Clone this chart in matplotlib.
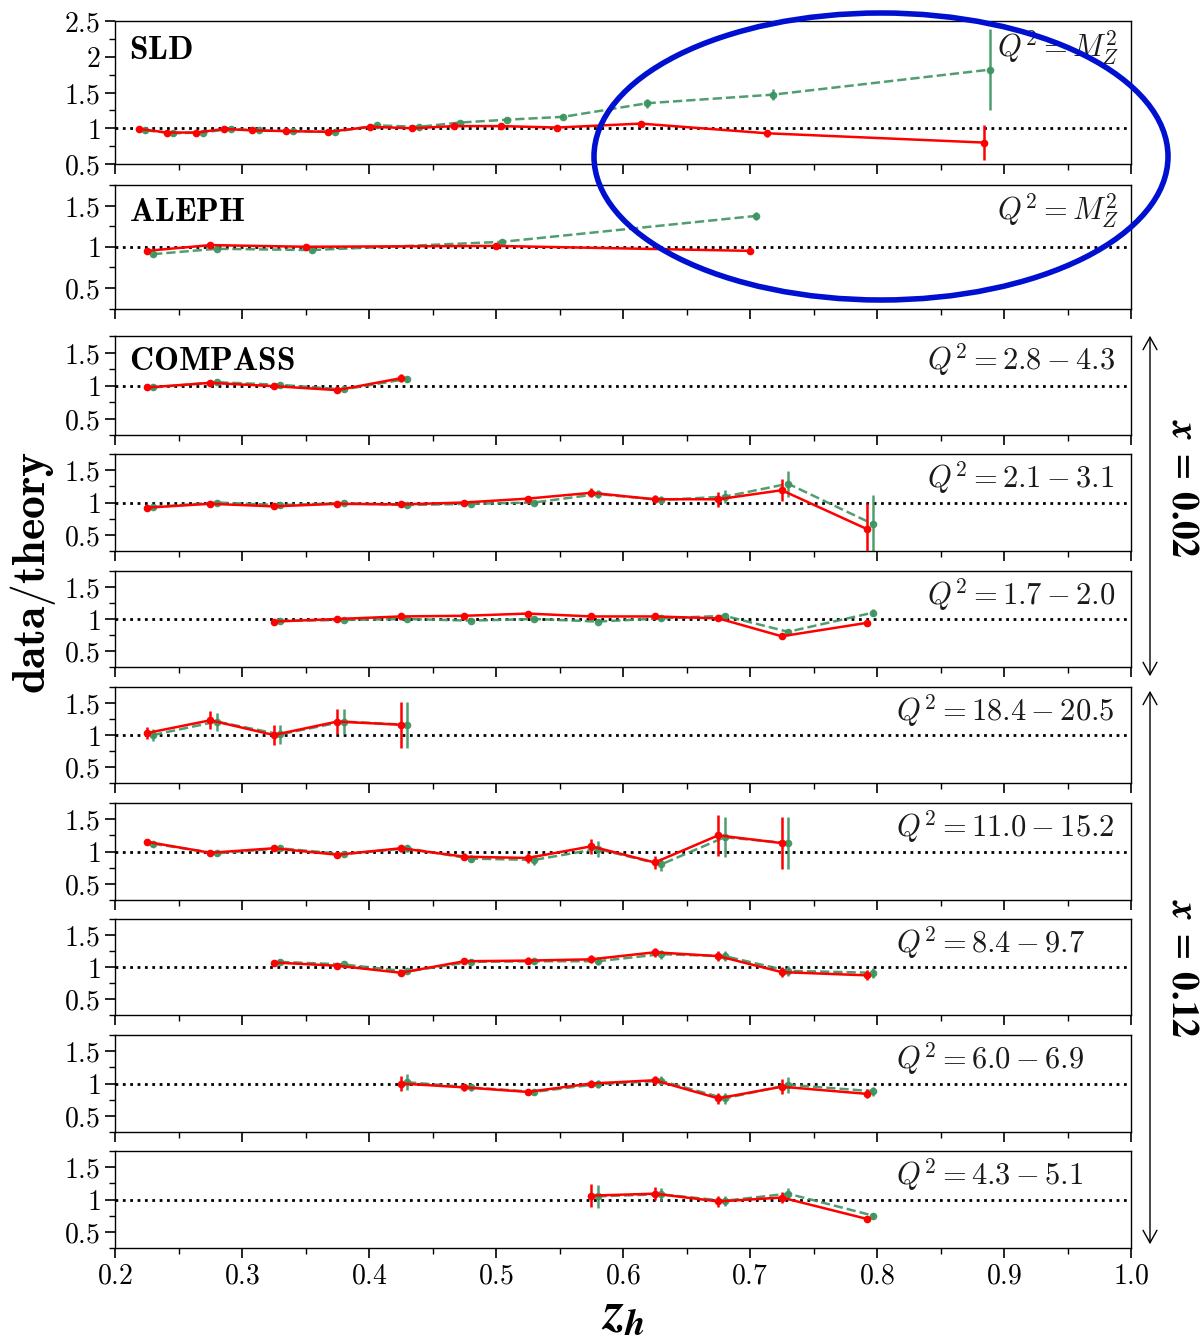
import numpy as np
import matplotlib
matplotlib.use("Agg")
import matplotlib.pyplot as plt
from matplotlib.patches import Ellipse, FancyArrowPatch
from matplotlib.ticker import MultipleLocator, FuncFormatter

plt.rcParams['mathtext.fontset'] = 'cm'
plt.rcParams['font.family'] = ['DejaVu Serif']

# ---- e+e- data / theory ratios ----
sld_z = [0.219, 0.241, 0.264, 0.286, 0.308, 0.335, 0.368, 0.401, 0.434,
         0.467, 0.504, 0.548, 0.614, 0.713, 0.884]
sld_red = [0.99, 0.94, 0.94, 0.99, 0.97, 0.96, 0.95, 1.02, 1.00, 1.03, 1.03,
           1.01, 1.065, 0.93, 0.80]
sld_red_err = [0.04, 0.02, 0.02, 0.02, 0.02, 0.02, 0.02, 0.02, 0.02, 0.02,
               0.02, 0.02, 0.03, 0.05, 0.25]
sld_green = [0.97, 0.93, 0.94, 0.99, 0.97, 0.96, 0.95, 1.04, 1.02, 1.08, 1.12,
             1.16, 1.35, 1.47, 1.82]
sld_green_err = [0.03, 0.02, 0.02, 0.02, 0.02, 0.02, 0.02, 0.02, 0.02, 0.02,
                 0.02, 0.03, 0.06, 0.08, 0.57]

aleph_z = [0.225, 0.275, 0.35, 0.50, 0.70]
aleph_red = [0.95, 1.02, 1.00, 1.01, 0.95]
aleph_red_err = [0.02, 0.02, 0.02, 0.02, 0.02]
aleph_green = [0.91, 0.975, 0.96, 1.06, 1.375]
aleph_green_err = [0.02, 0.02, 0.02, 0.02, 0.05]

# ---- COMPASS, x = 0.02 ----
c1_z = [0.225, 0.275, 0.325, 0.375, 0.425]
c1_red = [0.97, 1.04, 0.99, 0.93, 1.11]
c1_red_err = [0.02, 0.02, 0.02, 0.02, 0.06]
c1_green = [0.97, 1.05, 1.01, 0.94, 1.10]
c1_green_err = [0.02, 0.02, 0.02, 0.02, 0.05]

c2_z = [0.225, 0.275, 0.325, 0.375, 0.425, 0.475, 0.525, 0.575, 0.625,
        0.675, 0.725, 0.792]
c2_red = [0.92, 0.98, 0.94, 0.98, 0.97, 1.00, 1.06, 1.15, 1.05, 1.05, 1.19, 0.59]
c2_red_err = [0.02, 0.02, 0.02, 0.02, 0.02, 0.02, 0.03, 0.07, 0.06, 0.12, 0.17, 0.40]
c2_green = [0.93, 1.00, 0.96, 0.99, 0.96, 0.98, 1.00, 1.13, 1.04, 1.09, 1.29, 0.665]
c2_green_err = [0.02, 0.02, 0.02, 0.02, 0.02, 0.02, 0.03, 0.06, 0.06, 0.10, 0.20, 0.45]

c3_z = [0.325, 0.375, 0.425, 0.475, 0.525, 0.575, 0.625, 0.675, 0.725, 0.792]
c3_red = [0.96, 1.00, 1.04, 1.05, 1.085, 1.04, 1.04, 1.01, 0.73, 0.94]
c3_red_err = [0.02, 0.02, 0.02, 0.02, 0.02, 0.03, 0.03, 0.03, 0.04, 0.05]
c3_green = [0.97, 0.985, 1.00, 0.975, 1.00, 0.96, 1.01, 1.05, 0.80, 1.10]
c3_green_err = [0.02, 0.02, 0.02, 0.02, 0.02, 0.03, 0.03, 0.03, 0.04, 0.05]

# ---- COMPASS, x = 0.12 ----
c4_z = [0.225, 0.275, 0.325, 0.375, 0.425]
c4_red = [1.03, 1.23, 1.00, 1.21, 1.16]
c4_red_err = [0.10, 0.14, 0.15, 0.20, 0.36]
c4_green = [1.00, 1.21, 1.01, 1.21, 1.16]
c4_green_err = [0.10, 0.14, 0.15, 0.20, 0.36]

c5_z = [0.225, 0.275, 0.325, 0.375, 0.425, 0.475, 0.525, 0.575, 0.625,
        0.675, 0.725]
c5_red = [1.15, 0.98, 1.05, 0.95, 1.05, 0.92, 0.90, 1.08, 0.83, 1.25, 1.13]
c5_red_err = [0.05, 0.02, 0.03, 0.03, 0.05, 0.05, 0.08, 0.12, 0.10, 0.32, 0.40]
c5_green = [1.12, 0.97, 1.05, 0.96, 1.05, 0.89, 0.87, 1.04, 0.80, 1.22, 1.13]
c5_green_err = [0.05, 0.02, 0.03, 0.03, 0.05, 0.05, 0.08, 0.12, 0.10, 0.31, 0.40]

c6_z = [0.325, 0.375, 0.425, 0.475, 0.525, 0.575, 0.625, 0.675, 0.725, 0.792]
c6_red = [1.07, 1.02, 0.91, 1.09, 1.10, 1.12, 1.23, 1.17, 0.92, 0.87]
c6_red_err = [0.04, 0.02, 0.03, 0.04, 0.05, 0.06, 0.07, 0.08, 0.08, 0.08]
c6_green = [1.08, 1.04, 0.93, 1.08, 1.09, 1.09, 1.20, 1.17, 0.94, 0.91]
c6_green_err = [0.04, 0.02, 0.03, 0.04, 0.05, 0.06, 0.07, 0.08, 0.08, 0.08]

c7_z = [0.425, 0.475, 0.525, 0.575, 0.625, 0.675, 0.725, 0.792]
c7_red = [1.00, 0.94, 0.87, 1.00, 1.05, 0.77, 0.95, 0.84]
c7_red_err = [0.12, 0.05, 0.05, 0.06, 0.07, 0.08, 0.12, 0.07]
c7_green = [1.02, 0.94, 0.87, 0.99, 1.04, 0.77, 0.98, 0.88]
c7_green_err = [0.12, 0.05, 0.05, 0.06, 0.07, 0.08, 0.12, 0.07]

c8_z = [0.575, 0.625, 0.675, 0.725, 0.792]
c8_red = [1.06, 1.09, 0.97, 1.03, 0.70]
c8_red_err = [0.18, 0.10, 0.08, 0.09, 0.04]
c8_green = [1.05, 1.08, 0.98, 1.09, 0.75]
c8_green_err = [0.18, 0.10, 0.08, 0.09, 0.04]

panels = [
    dict(z=sld_z, r=sld_red, re=sld_red_err, g=sld_green, ge=sld_green_err,
         name='SLD', q2=r'$Q^2 = M_Z^2$', ylim=(0.5, 2.5)),
    dict(z=aleph_z, r=aleph_red, re=aleph_red_err, g=aleph_green, ge=aleph_green_err,
         name='ALEPH', q2=r'$Q^2 = M_Z^2$', ylim=(0.25, 1.75)),
    dict(z=c1_z, r=c1_red, re=c1_red_err, g=c1_green, ge=c1_green_err,
         name='COMPASS', q2=r'$Q^2 = 2.8 - 4.3$', ylim=(0.25, 1.75)),
    dict(z=c2_z, r=c2_red, re=c2_red_err, g=c2_green, ge=c2_green_err,
         name=None, q2=r'$Q^2 = 2.1 - 3.1$', ylim=(0.25, 1.75)),
    dict(z=c3_z, r=c3_red, re=c3_red_err, g=c3_green, ge=c3_green_err,
         name=None, q2=r'$Q^2 = 1.7 - 2.0$', ylim=(0.25, 1.75)),
    dict(z=c4_z, r=c4_red, re=c4_red_err, g=c4_green, ge=c4_green_err,
         name=None, q2=r'$Q^2 = 18.4 - 20.5$', ylim=(0.25, 1.75)),
    dict(z=c5_z, r=c5_red, re=c5_red_err, g=c5_green, ge=c5_green_err,
         name=None, q2=r'$Q^2 = 11.0 - 15.2$', ylim=(0.25, 1.75)),
    dict(z=c6_z, r=c6_red, re=c6_red_err, g=c6_green, ge=c6_green_err,
         name=None, q2=r'$Q^2 = 8.4 - 9.7$', ylim=(0.25, 1.75)),
    dict(z=c7_z, r=c7_red, re=c7_red_err, g=c7_green, ge=c7_green_err,
         name=None, q2=r'$Q^2 = 6.0 - 6.9$', ylim=(0.25, 1.75)),
    dict(z=c8_z, r=c8_red, re=c8_red_err, g=c8_green, ge=c8_green_err,
         name=None, q2=r'$Q^2 = 4.3 - 5.1$', ylim=(0.25, 1.75)),
]

# panel boxes (top, bottom) in pixels of a 1200x1337 canvas
boxes = [(21, 164), (185, 308.5), (336, 435), (454, 551), (571, 667),
         (687, 783), (803, 900), (919, 1015), (1035, 1132), (1151, 1248)]
# Q^2 label: (x in axes fraction, horizontal alignment)
q2_pos = [(0.988, 'right'), (0.988, 'right'),
          (0.799, 'left'), (0.799, 'left'), (0.799, 'left'),
          (0.769, 'left'), (0.769, 'left'), (0.769, 'left'), (0.769, 'left'), (0.769, 'left')]

W, H = 1200, 1337
x0, x1 = 115, 1131
shift = 0.005
green = '#3d9460'

fig = plt.figure(figsize=(W / 100, H / 100), dpi=100)

tickfmt = FuncFormatter(lambda v, p: r'$%g$' % v)

for i, (p, (top, bot)) in enumerate(zip(panels, boxes)):
    ax = fig.add_axes([x0 / W, 1 - bot / H, (x1 - x0) / W, (bot - top) / H])
    ax.axhline(1.0, color='black', ls=':', lw=2.0, zorder=1)
    z = np.array(p['z'])
    ax.errorbar(z + shift, p['g'], yerr=p['ge'], color=green, ls='--', lw=1.8,
                marker='o', ms=4.5, elinewidth=1.8, capsize=0, alpha=0.9, zorder=2)
    ax.errorbar(z, p['r'], yerr=p['re'], color='red', ls='-', lw=1.8,
                marker='o', ms=4.5, elinewidth=1.8, capsize=0, zorder=3)
    ax.set_xlim(0.2, 1.0)
    ax.set_ylim(*p['ylim'])
    ax.xaxis.set_major_locator(MultipleLocator(0.1))
    ax.xaxis.set_minor_locator(MultipleLocator(0.05))
    ax.yaxis.set_major_locator(MultipleLocator(0.5))
    ax.yaxis.set_minor_locator(MultipleLocator(0.25))
    if i >= 1:
        ax.set_yticks([0.5, 1.0, 1.5])
    ax.yaxis.set_major_formatter(tickfmt)
    ax.tick_params(which='major', length=7, width=1.2, labelsize=20)
    ax.tick_params(which='minor', length=4, width=1.0)
    if i == len(panels) - 1:
        ax.xaxis.set_major_formatter(FuncFormatter(lambda v, p: r'$%.1f$' % v))
    else:
        ax.tick_params(labelbottom=False)
    for s in ax.spines.values():
        s.set_linewidth(1.0)
    if p['name']:
        ax.text(0.014, 0.91, r'$\mathbf{%s}$' % p['name'], transform=ax.transAxes,
                ha='left', va='top', fontsize=24)
    qx, qha = q2_pos[i]
    ax.text(qx, 0.95, p['q2'], transform=ax.transAxes, ha=qha, va='top',
            fontsize=22, color='#1a1a1a')

fig.text(33 / W, 1 - 572 / H, r'$\mathbf{data/theory}$', rotation=90,
         ha='center', va='center', fontsize=33)
fig.text(623 / W, 1 - 1313 / H, r'$\boldsymbol{z}_{\boldsymbol{h}}$', ha='center',
         va='center', fontsize=38, math_fontfamily='stix')

# x-bin brackets on the right
for (ya, yb, lab, yc) in [(333, 679, r'$\boldsymbol{x}\;=\;\mathbf{0.02}$', 488),
                          (688, 1247, r'$\boldsymbol{x}\;=\;\mathbf{0.12}$', 968)]:
    fig.patches.append(FancyArrowPatch(
        (1150 / W, 1 - ya / H), (1150 / W, 1 - yb / H), transform=fig.transFigure,
        arrowstyle='<->,head_length=9,head_width=5', lw=1.0, color='black'))
    fig.text(1182 / W, 1 - yc / H, lab, rotation=-90, ha='center', va='center',
             fontsize=27, math_fontfamily='stix')

# highlight ring around the high-z e+e- points
ring = Ellipse((881 / W, 1 - 156.5 / H), 574 / W, 287 / H, transform=fig.transFigure,
               fill=False, edgecolor='#0010d0', lw=4, zorder=10)
fig.patches.append(ring)

fig.savefig('out.png', dpi=100)
